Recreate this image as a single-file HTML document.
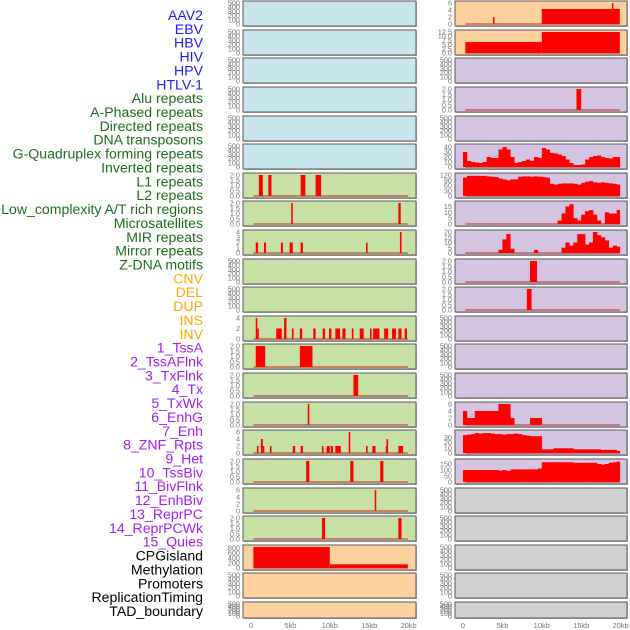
<!DOCTYPE html>
<html><head><meta charset="utf-8"><style>
html,body{margin:0;padding:0;background:#fff;}
svg{display:block;font-family:"Liberation Sans",sans-serif;}
</style></head><body>
<svg id="chart" width="630" height="630" viewBox="0 0 630 630" xmlns="http://www.w3.org/2000/svg">
<g id="labels"></g>
<g id="panels"></g>
<g id="xaxes"></g>
</svg>
<script>
// ---- data ----
const featureLabels = ["AAV2","EBV","HBV","HIV","HPV","HTLV-1","Alu repeats","A-Phased repeats","Directed repeats","DNA transposons","G-Quadruplex forming repeats","Inverted repeats","L1 repeats","L2 repeats","Low_complexity A/T rich regions","Microsatellites","MIR repeats","Mirror repeats","Z-DNA motifs","CNV","DEL","DUP","INS","INV","1_TssA","2_TssAFlnk","3_TxFlnk","4_Tx","5_TxWk","6_EnhG","7_Enh","8_ZNF_Rpts","9_Het","10_TssBiv","11_BivFlnk","12_EnhBiv","13_ReprPC","14_ReprPCWk","15_Quies","CPGisland","Methylation","Promoters","ReplicationTiming","TAD_boundary"];
const labelGroups = ["v","v","v","v","v","v","r","r","r","r","r","r","r","r","r","r","r","r","r","c","c","c","c","c","s","s","s","s","s","s","s","s","s","s","s","s","s","s","s","o","o","o","o","o"];
const xTickLabels = ["0","5kb","10kb","15kb","20kb"];
const xTickValues = [0,5,10,15,20];
const emptyTicks = ["0","100","200","300","400","500"];
const ticks2 = ["0.0","0.5","1.0","1.5","2.0"];
const ticks4 = ["0","1","2","3","4"];
const ticks6 = ["0","2","4","6"];
// spike/segment data: [startKb, endKb, value]
const L6 = [[1.0,1.5,2],[2.2,2.6,2],[6.3,6.9,2],[8.2,8.9,2]];
const L7 = [[5.1,5.3,2],[18.7,19.0,2]];
const L8 = [[0.6,0.9,2],[1.65,1.9,2],[3.8,4.05,2],[4.9,5.3,2],[6.3,6.6,2],[14.6,14.8,2],[18.9,19.1,4]];
const L11 = [[0.6,0.8,4],[0.8,0.95,2],[3.2,3.9,2],[4.2,4.5,4],[5.2,5.4,2],[6.2,6.5,2],[7.9,8.2,2],[9.1,9.4,2],[9.9,10.2,2],[10.7,11.3,2],[11.6,12.0,2],[12.8,13.0,2],[13.8,14.3,2],[15.1,15.3,2],[15.5,16.3,2],[16.9,17.4,2],[17.9,18.4,2],[18.7,19.1,2],[19.5,19.8,2]];
const L12 = [[0.6,1.8,2],[6.2,7.8,2]];
const L13 = [[13.0,13.6,2]];
const L14 = [[7.2,7.4,2]];
const L15 = [[0.75,0.95,2],[1.25,1.5,4],[1.5,1.65,2],[2.4,2.6,2],[5.3,5.6,2],[6.3,6.6,2],[9.0,9.2,2],[9.6,10.0,2],[10.1,10.4,2],[10.7,11.4,2],[12.4,12.6,6],[14.6,14.8,2],[15.4,15.8,2],[17.1,17.2,2],[17.2,17.4,4],[18.7,19.3,2]];
const L16 = [[7.0,7.4,2],[12.6,13.0,2],[16.4,16.8,2]];
const L17 = [[15.7,15.9,6]];
const L18 = [[9.0,9.4,2],[18.7,19.1,2]];
const L19 = [[0,10,850],[10,20,150]];
const R0 = [[3.8,4.0,2],[10,20,4.3],[18.9,19.0,6]];
const R1 = [[0,10,6.5],[10,20,12.5]];
const R3 = [[14.4,15.0,2]];
const R9 = [[8.5,9.4,2]];
const R10 = [[8.1,8.7,2]];
// binned data (0.5kb bins from 0 to 20kb)
const R5bins = [30,12,10,9,8,10,20,18,18,35,40,35,20,8,10,12,15,12,20,18,38,35,28,27,25,22,15,8,4,4,5,15,20,22,23,20,18,17,20,20];
const R6bins = [105,115,115,115,115,115,112,110,108,100,95,90,95,95,110,112,112,110,112,110,108,105,70,65,70,72,72,72,70,65,75,82,85,78,75,78,75,72,70,65];
const R7bins = [0,0,0,0,0,0,0,0,0,0,0,0,0,0,0,0,0,0,0,0,0,0,0,0,3,9,15,17,5,3,8,11,12,8,3,0,10,9,9,12];
const R8bins = [0,0,0,0,0,0,0,0,0,3,13,18,4,0,0,0,0,0,3,0,0,0,0,0,0,5,10,7,10,18,18,8,10,20,17,15,12,5,7,6];
const R14bins = [4,2,2,4,4,4,4,4,4,6,6,6,2,0,0,0,0,2,2,2,0,0,0,0,0,0,0,0,0,0,0,0,0,0,0,0,0,0,0,0];
const R15bins = [34,35,36,38,37,38,38,37,36,36,35,36,36,37,36,34,33,32,32,32,7,7,7,9,9,9,9,9,7,7,7,7,7,7,7,6,6,6,6,4];
const R16bins = [100,100,100,100,100,100,100,100,100,95,100,92,105,105,105,105,105,105,105,112,165,165,165,165,165,165,165,165,160,160,160,160,160,160,150,145,150,160,165,170];

const C = {b:"#c8e4ec",g:"#c7e0a5",o:"#fed09e",p:"#d5c4e1",y:"#d0d0d0"};
const rowTops = [0,29,57,86,115,143,172,200,229,258,286,315,343,372,401,429,458,487,515,544,572,601];
// panel definitions: [col,row,bg,ymax,ticks,segments,bins]
const panelDefs = [
 [0,0,"b",500,emptyTicks,null,null],[0,1,"b",500,emptyTicks,null,null],[0,2,"b",500,emptyTicks,null,null],
 [0,3,"b",500,emptyTicks,null,null],[0,4,"b",500,emptyTicks,null,null],[0,5,"b",500,emptyTicks,null,null],
 [0,6,"g",2,ticks2,L6,null],[0,7,"g",2,ticks2,L7,null],[0,8,"g",4,ticks4,L8,null],
 [0,9,"g",500,emptyTicks,null,null],[0,10,"g",500,emptyTicks,null,null],[0,11,"g",4,["0","2","4"],L11,null],
 [0,12,"g",2,ticks2,L12,null],[0,13,"g",2,ticks2,L13,null],[0,14,"g",2,ticks2,L14,null],
 [0,15,"g",6,ticks6,L15,null],[0,16,"g",2,ticks2,L16,null],[0,17,"g",6,ticks6,L17,null],
 [0,18,"g",2,ticks2,L18,null],[0,19,"o",850,["0","200","400","600","800"],L19,null],
 [0,20,"o",500,emptyTicks,null,null],[0,21,"o",500,emptyTicks,null,null],
 [1,0,"o",6,["0","2","4","6"],R0,null],[1,1,"o",12.5,["0.0","2.5","5.0","7.5","10.0","12.5"],R1,null],
 [1,2,"p",500,emptyTicks,null,null],[1,3,"p",2,ticks2,R3,null],[1,4,"p",500,emptyTicks,null,null],
 [1,5,"p",42,["0","10","20","30","40"],null,R5bins],[1,6,"p",120,["0","30","60","90","120"],null,R6bins],
 [1,7,"p",18,["0","5","10","15"],null,R7bins],[1,8,"p",20,["0","5","10","15","20"],null,R8bins],
 [1,9,"p",2,ticks2,R9,null],[1,10,"p",2,ticks2,R10,null],
 [1,11,"p",500,emptyTicks,null,null],[1,12,"p",500,emptyTicks,null,null],[1,13,"p",500,emptyTicks,null,null],
 [1,14,"p",6,ticks6,null,R14bins],[1,15,"p",40,["0","10","20","30"],null,R15bins],
 [1,16,"p",175,["0","50","100","150"],null,R16bins],
 [1,17,"y",500,emptyTicks,null,null],[1,18,"y",500,emptyTicks,null,null],[1,19,"y",500,emptyTicks,null,null],
 [1,20,"y",500,emptyTicks,null,null],[1,21,"y",500,emptyTicks,null,null]
];

const NS = "http://www.w3.org/2000/svg";
function mk(tag, attrs, parent){const e=document.createElementNS(NS,tag);for(const k in attrs)e.setAttribute(k,attrs[k]);parent.appendChild(e);return e;}
const colLeft=[243,455], colRight=[416,627], x0=[251,463], pxPerKb=7.88;
function xs(col,kb){return x0[col]+kb*pxPerKb;}

// labels
const lg=document.getElementById("labels");
const gcol={v:"#1a1aff",r:"#1a6e1a",c:"#ffa500",s:"#a020f0",o:"#000"};
featureLabels.forEach((t,i)=>{
  const e=mk("text",{x:203,y:20+i*13.86,"text-anchor":"end","font-size":"14.1",fill:gcol[labelGroups[i]]},lg);
  e.textContent=t;
  
  
});

// panels
const pg=document.getElementById("panels");
panelDefs.forEach(d=>{
  const [col,row,bg,ymax,tk,segs,bins]=d;
  const top=rowTops[row]+1, h=(row===21?16:25), left=colLeft[col], right=colRight[col];
  const g=mk("g",{},pg);
  
  
  mk("rect",{x:left+1,y:top+1,width:right-left,height:h,fill:"#bbb"},g);
  const r=mk("rect",{x:left,y:top,width:right-left,height:h,fill:C[bg],stroke:"#5a5a5a","stroke-width":1},g);
  
  
  const bot=top+h-2, span=h-4;
  const ys=v=>bot-v/ymax*span;
  tk.forEach((t,i)=>{
    const v=parseFloat(t);
    const e=mk("text",{x:left-3,y:ys(v)+2.5,"text-anchor":"end","font-size":"7.3",fill:"#777"},g);
    e.textContent=t;
    
    
  });
  if(segs||bins){
    const bl=mk("rect",{x:xs(col,0.3),y:bot-1,width:xs(col,19.9)-xs(col,0.3),height:2,fill:"rgba(190,40,40,0.5)"},g);
    
    
  }
  if(segs){
    segs.forEach(s=>{
      const y=ys(s[2]);
      const b=mk("rect",{x:xs(col,Math.max(s[0],0.3)),y:y,width:Math.max(1.5,xs(col,Math.min(s[1],19.9))-xs(col,Math.max(s[0],0.3))),height:bot-y,fill:"#ff0000"},g);
      
      
    });
  }
  if(bins){
    bins.forEach((v,i)=>{
      if(v<=0)return;
      const a=Math.max(i*0.5,0), e=Math.min((i+1)*0.5,19.9);
      const y=ys(v);
      const b=mk("rect",{x:xs(col,a),y:y,width:xs(col,e)-xs(col,a)+0.3,height:bot-y,fill:"#ff0000"},g);
      
      
    });
  }
});

// x axes
const xg=document.getElementById("xaxes");
[0,1].forEach(col=>{
  xTickValues.forEach((v,i)=>{
    const e=mk("text",{x:xs(col,v),y:628,"text-anchor":"middle","font-size":"7.5",fill:"#777"},xg);
    e.textContent=xTickLabels[i];
    
    
  });
});
</script>
</body></html>
